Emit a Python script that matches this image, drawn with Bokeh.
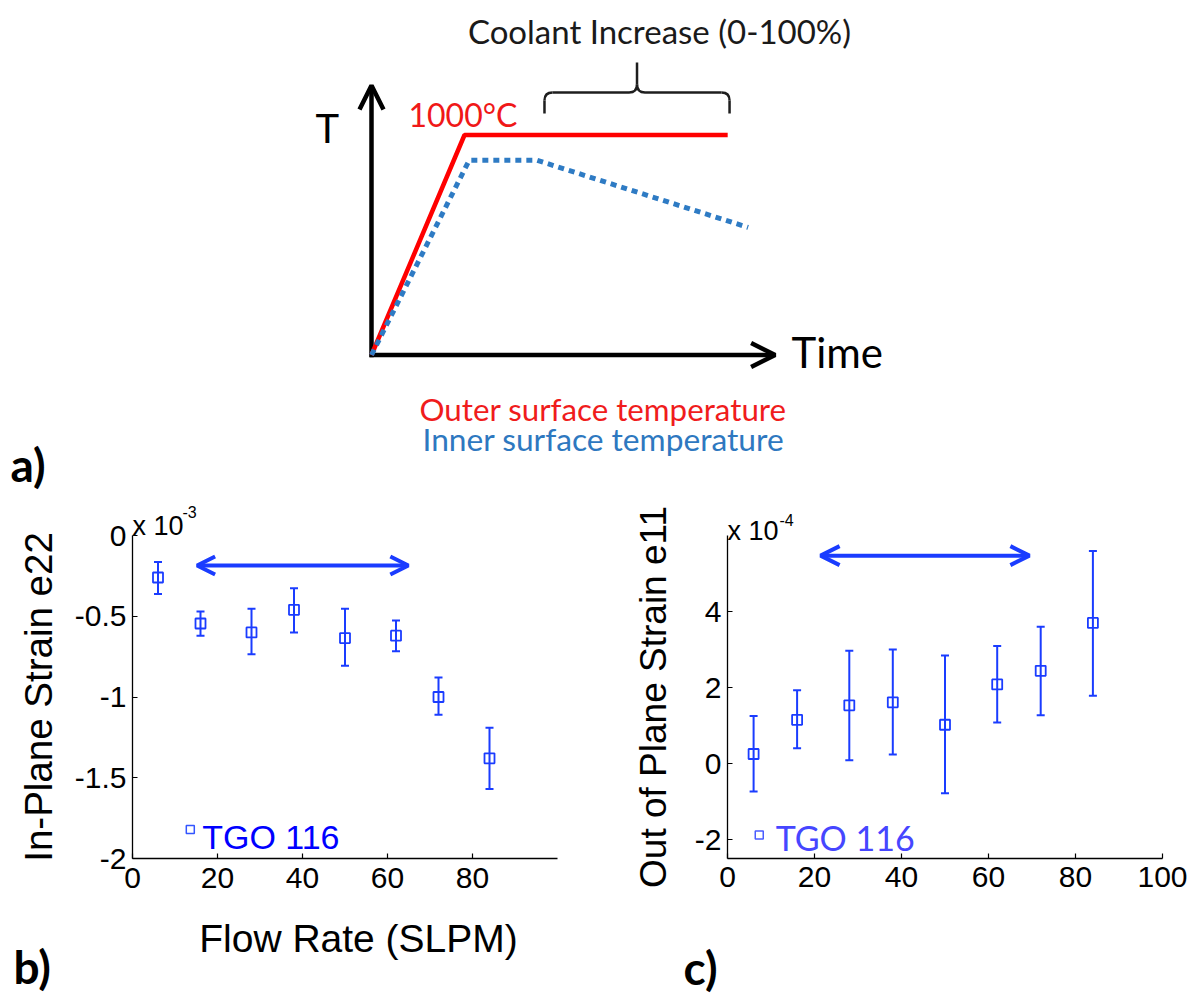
import math
from bokeh.plotting import figure
from bokeh.models import (Range1d, Arrow, OpenHead, Whisker, TeeHead, Title,
                          ColumnDataSource, FixedTicker)
from bokeh.layouts import column, row
from bokeh.embed import file_html
from bokeh.resources import INLINE
from bokeh.core.properties import value

# ---------------- data ----------------
# panel a: schematic thermal cycle (time in arbitrary units, temperature in degC)
outer_time = [0.0, 1.0, 3.83]
outer_temp = [0, 1000, 1000]
inner_time = [0.0, 1.05, 1.78, 4.05]
inner_temp = [0, 885, 885, 580]
axis_time_end = 4.34
axis_temp_end = 1225
coolant_window = [1.86, 3.85]          # time span of the coolant increase bracket

# panel b: in-plane strain e22 (x 10^-3) vs flow rate
flow_b = [6, 16, 28, 38, 50, 62, 72, 84]
e22 = [-0.26, -0.545, -0.60, -0.46, -0.635, -0.62, -1.00, -1.38]
e22_lo = [-0.362, -0.62, -0.736, -0.60, -0.807, -0.716, -1.11, -1.57]
e22_hi = [-0.164, -0.47, -0.453, -0.326, -0.453, -0.526, -0.88, -1.19]
arrow_b_x = [15.2, 64.9]
arrow_b_y = -0.186

# panel c: out-of-plane strain e11 (x 10^-4) vs flow rate
flow_c = [6, 16, 28, 38, 50, 62, 72, 84]
e11 = [0.25, 1.15, 1.53, 1.61, 1.02, 2.08, 2.44, 3.70]
e11_lo = [-0.74, 0.40, 0.085, 0.24, -0.78, 1.08, 1.27, 1.78]
e11_hi = [1.25, 1.93, 2.97, 3.00, 2.84, 3.09, 3.60, 5.59]
arrow_c_x = [21.4, 69.4]
arrow_c_y = 5.47

ticks_b_x = [0, 20, 40, 60, 80]
ticks_b_y = [-2, -1.5, -1, -0.5, 0]
labels_b_y = ["-2", "-1.5", "-1", "-0.5", "0"]
ticks_c_x = [0, 20, 40, 60, 80, 100]
ticks_c_y = [-2, 0, 2, 4]
labels_c_y = ["-2", "0", "2", "4"]

legend_label = "TGO 116"

BLUE = "#1a3cff"
RED = "#ff0000"
INNER = "#2e7bc4"
ARIAL = "Liberation Sans"
CAL = "Lato"

# ---------------- panel a ----------------
X0, Y0 = 371.0, 354.5          # pixel position of the schematic origin
PXT, PXD = 93.0, 0.22          # pixels per time unit, pixels per degC


def ta(px):
    return (px - X0) / PXT


def Ta(py):
    return (Y0 - py) / PXD


pa = figure(width=1200, height=500, x_range=Range1d(ta(0), ta(1200)),
            y_range=Range1d(Ta(500), Ta(0)), x_axis_location=None,
            y_axis_location=None, toolbar_location=None, output_backend="svg",
            min_border=0, outline_line_color=None)
pa.grid.visible = False

pa.add_layout(Arrow(end=OpenHead(size=24, line_width=4.5, line_color="black"),
                    x_start=0, y_start=-10, x_end=0, y_end=axis_temp_end,
                    line_width=4.5, line_color="black", level="underlay"))
pa.add_layout(Arrow(end=OpenHead(size=24, line_width=4.5, line_color="black"),
                    x_start=-0.02, y_start=0, x_end=axis_time_end, y_end=0,
                    line_width=4.5, line_color="black", level="underlay"))

pa.line(outer_time, outer_temp, line_color=RED, line_width=4.5)
pa.line(inner_time, inner_temp, line_color=INNER, line_width=5, line_dash="6 5")

# curly bracket over the coolant window
bl, br = coolant_window
bm = (bl + br) / 2
yb, yh, yt = Ta(113), Ta(92), Ta(62)
dx, dy = 8 / PXT, 8 / PXD
bc = "#1e1e1e"
pa.segment(x0=[bl, br, bl + dx, bm + dx, bm], y0=[yb, yb, yh, yh, yh + dy],
           x1=[bl, br, bm - dx, br - dx, bm], y1=[yh - dy, yh - dy, yh, yh, yt],
           line_color=bc, line_width=2.5)
pa.quadratic(x0=[bl, br, bm - dx, bm + dx], y0=[yh - dy, yh - dy, yh, yh],
             x1=[bl + dx, br - dx, bm, bm], y1=[yh, yh, yh + dy, yh + dy],
             cx=[bl, br, bm, bm], cy=[yh, yh, yh, yh],
             line_color=bc, line_width=2.5)


def atext(x_px, yc_px, txt, size, color="black", align="left", bold=False):
    pa.text(x=[ta(x_px)], y=[Ta(yc_px)], text=[txt], text_font=value(CAL),
            text_font_size=f"{size}px", text_align=align,
            text_font_style="bold" if bold else "normal",
            text_baseline="alphabetic", text_color=color)


atext(659, 30, "Coolant Increase (0-100%)", 33, "#1a1a1a", align="center")
atext(315, 127.5, "T", 40)
atext(408, 113.5, "1000°C", 32, "#f01818")
atext(791, 351, "Time", 42)
atext(419, 408, "Outer surface temperature", 31.3, "#f01c1c")
atext(422, 438, "Inner surface temperature", 31.7, "#2e78c0")
atext(10, 464, "a)", 46, bold=True)


def style_axes(p):
    p.outline_line_color = None
    p.grid.visible = False
    p.axis.axis_line_color = "black"
    p.axis.axis_line_width = 1.3
    p.axis.major_tick_in = 5
    p.axis.major_tick_out = 0
    p.axis.major_tick_line_color = "black"
    p.axis.major_tick_line_width = 1.2
    p.axis.minor_tick_line_color = None
    p.axis.major_label_text_font = ARIAL
    p.axis.major_label_text_font_size = "30px"
    p.axis.major_label_text_color = "black"
    p.axis.axis_label_text_font = ARIAL
    p.axis.axis_label_text_font_style = "normal"
    p.axis.axis_label_text_color = "black"
    p.xaxis.major_label_standoff = 9
    p.yaxis.major_label_standoff = 6


def add_points(p, x, y, lo, hi):
    src = ColumnDataSource(dict(x=x, y=y, lo=lo, hi=hi))
    p.add_layout(Whisker(source=src, base="x", upper="hi", lower="lo",
                         dimension="height", line_color=BLUE, line_width=2,
                         upper_head=TeeHead(size=8, line_color=BLUE, line_width=2),
                         lower_head=TeeHead(size=8, line_color=BLUE, line_width=2)))
    p.scatter("x", "y", source=src, marker="square", size=10, fill_color=None,
              line_color=BLUE, line_width=1.8)


def add_scale_note(p, exponent, s1, s2, sup_offset):
    # "x 10" sits next to the frame, the exponent is a smaller title above it
    p.add_layout(Title(text="x 10", align="left", offset=0, standoff=s1,
                       text_font=ARIAL, text_font_size="27px",
                       text_font_style="normal", text_color="black"), "above")
    p.add_layout(Title(text=exponent, align="left", offset=sup_offset, standoff=s2,
                       text_font=ARIAL, text_font_size="16px",
                       text_font_style="normal", text_color="black"), "above")


# ---------------- panel b ----------------
pb = figure(width=600, height=405, x_range=Range1d(0, 100), y_range=Range1d(-2, 0),
            toolbar_location=None, output_backend="svg",
            min_border_left=132, min_border_right=43, min_border_top=35,
            min_border_bottom=47)
style_axes(pb)
pb.xaxis.ticker = FixedTicker(ticks=ticks_b_x)
pb.yaxis.ticker = FixedTicker(ticks=ticks_b_y)
pb.yaxis.major_label_overrides = {t: s for t, s in zip(ticks_b_y, labels_b_y)}
pb.yaxis.axis_label = "In-Plane Strain e22"
pb.yaxis.axis_label_text_font_size = "38.5px"
pb.yaxis.axis_label_standoff = 12
add_points(pb, flow_b, e22, e22_lo, e22_hi)
pb.add_layout(Arrow(start=OpenHead(size=18, line_width=4, line_color=BLUE),
                    end=OpenHead(size=18, line_width=4, line_color=BLUE),
                    x_start=arrow_b_x[0], y_start=arrow_b_y, x_end=arrow_b_x[1],
                    y_end=arrow_b_y, line_width=4, line_color=BLUE))
pb.scatter([13.6], [-1.82], marker="square", size=8, fill_color=None,
           line_color="#3355ff", line_width=1.5)
pb.text(x=[16.4], y=[-1.869], text=[legend_label], text_font=value(ARIAL),
        text_font_size="34px", text_baseline="alphabetic", text_color="#0000ff")
add_scale_note(pb, "-3", -11, -6, 50)

# ---------------- panel c ----------------
pc = figure(width=600, height=405, x_range=Range1d(0, 100), y_range=Range1d(-2.5, 6),
            toolbar_location=None, output_backend="svg",
            min_border_left=127, min_border_right=38, min_border_top=29,
            min_border_bottom=42)
style_axes(pc)
pc.xaxis.major_label_standoff = 8
pc.xaxis.ticker = FixedTicker(ticks=ticks_c_x)
pc.yaxis.ticker = FixedTicker(ticks=ticks_c_y)
pc.yaxis.major_label_overrides = {t: s for t, s in zip(ticks_c_y, labels_c_y)}
pc.yaxis.axis_label = "Out of Plane Strain e11"
pc.yaxis.axis_label_text_font_size = "37px"
pc.yaxis.axis_label_standoff = 18
add_points(pc, flow_c, e11, e11_lo, e11_hi)
pc.add_layout(Arrow(start=OpenHead(size=19, line_width=4, line_color=BLUE),
                    end=OpenHead(size=19, line_width=4, line_color=BLUE),
                    x_start=arrow_c_x[0], y_start=arrow_c_y, x_end=arrow_c_x[1],
                    y_end=arrow_c_y, line_width=4, line_color=BLUE))
pc.scatter([7.3], [-1.88], marker="square", size=8, fill_color=None,
           line_color="#4a5cff", line_width=1.5)
pc.text(x=[11.1], y=[-1.945], text=[legend_label], text_font=value(CAL),
        text_font_size="34px", text_baseline="alphabetic", text_color="#4646ff")
add_scale_note(pc, "-4", -21, -2, 52)

# ---------------- bottom strip: x label of b and panel letters ----------------
pbot = figure(width=1200, height=91, x_range=Range1d(0, 1200),
              y_range=Range1d(996, 905), x_axis_location=None, y_axis_location=None,
              toolbar_location=None, output_backend="svg", min_border=0,
              outline_line_color=None)
pbot.grid.visible = False
pbot.text(x=[358], y=[938], text=["Flow Rate (SLPM)"], text_font=value(ARIAL),
          text_font_size="39px", text_align="center", text_baseline="alphabetic",
          text_color="black")
pbot.text(x=[13, 683], y=[966, 967], text=["b)", "c)"], text_font=value(CAL),
          text_font_size="46px", text_font_style="bold", text_baseline="alphabetic",
          text_color="black")

layout = column(pa, row(pb, pc), pbot)
open("out.html", "w").write(file_html(layout, INLINE))
